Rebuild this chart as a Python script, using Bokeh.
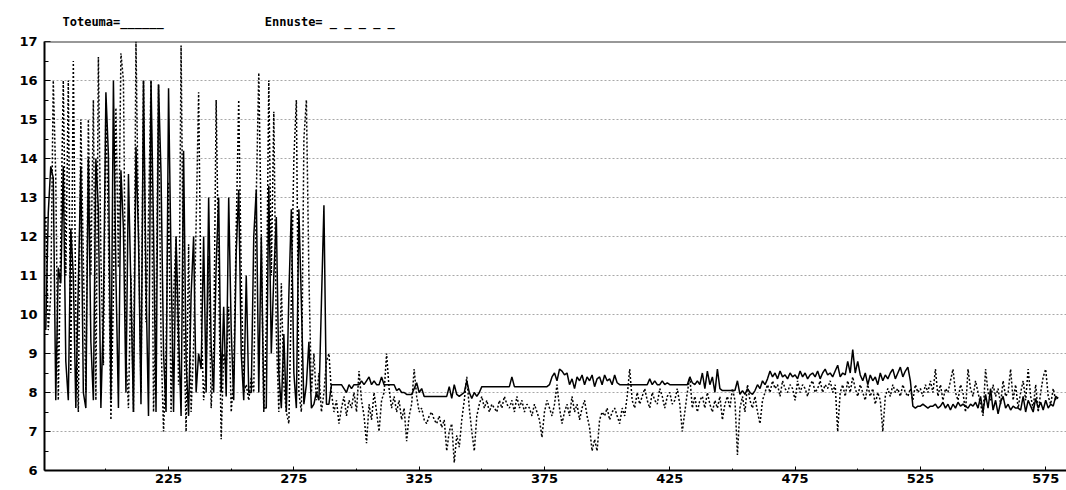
from bokeh.plotting import figure
from bokeh.models import FixedTicker, Range1d, Span
from bokeh.embed import file_html
from bokeh.resources import INLINE

# Day index of the first observation; one value per day for both series
first_day = 176

# Actual values (Toteuma), volatile period
toteuma_early = [
    9.6, 12.6, 13.8, 13.5, 7.8, 11.2, 10.8, 13.8, 8.8, 7.8,
    12.2, 11.0, 7.6, 10.8, 13.8, 8.0, 7.6, 14.0, 9.3, 7.8,
    14.0, 12.7, 7.6, 10.0, 15.7, 14.1, 7.8, 16.0, 11.0, 7.6,
    13.7, 12.2, 8.0, 13.6, 10.6, 7.5, 14.3, 12.0, 7.7, 16.0,
    10.8, 7.4, 16.0, 12.2, 7.5, 15.9, 13.6, 9.0, 7.5, 15.8,
    11.4, 7.5, 12.0, 9.5, 7.4, 14.2, 8.8, 7.4, 10.5, 12.0,
    8.0, 9.0, 8.6, 12.0, 8.0, 13.0, 9.2, 8.0, 11.3, 13.0,
    8.0, 10.2, 7.9, 13.0, 9.6, 7.8, 11.6, 13.2, 9.0, 7.8,
    11.0, 8.0, 8.0, 12.0, 13.2, 8.0, 12.0, 7.6, 7.6, 13.3,
    9.0, 11.0, 12.5, 8.5, 7.6, 9.5, 7.5, 10.5, 12.7, 8.5,
    7.6, 12.7, 10.3, 7.7, 8.2, 9.3, 7.6, 7.7, 8.0, 7.8,
    10.3, 12.8, 7.7, 7.7, 8.2,
]

# Actual values (Toteuma), calm period
toteuma_late = [
    8.2, 8.2, 8.2, 8.2, 8.1, 8.0, 8.2, 8.1, 8.2, 8.2,
    8.2, 8.3, 8.2, 8.3, 8.4, 8.2, 8.3, 8.2, 8.2, 8.4,
    8.2, 8.2, 8.2, 8.2, 8.2, 8.05, 8.1, 8.0, 8.0, 7.95,
    7.95, 7.95, 8.1, 8.25, 8.0, 8.1, 7.9, 7.9, 7.9, 7.9,
    7.9, 7.9, 7.9, 7.9, 7.9, 7.9, 8.15, 7.85, 8.2, 7.95,
    7.9, 7.95, 8.0, 8.3, 8.0, 7.85, 8.0, 7.9, 8.0, 8.15,
    8.15, 8.15, 8.15, 8.15, 8.15, 8.15, 8.15, 8.15, 8.15, 8.15,
    8.15, 8.4, 8.15, 8.15, 8.15, 8.15, 8.15, 8.15, 8.15, 8.15,
    8.15, 8.15, 8.15, 8.15, 8.15, 8.15, 8.2, 8.4, 8.5, 8.3,
    8.6, 8.55, 8.45, 8.5, 8.2, 8.35, 8.1, 8.4, 8.3, 8.45,
    8.2, 8.4, 8.3, 8.45, 8.15, 8.35, 8.4, 8.2, 8.45, 8.3,
    8.35, 8.2, 8.45, 8.25, 8.2, 8.2, 8.2, 8.2, 8.2, 8.2,
    8.2, 8.2, 8.2, 8.2, 8.2, 8.2, 8.35, 8.2, 8.3, 8.2,
    8.2, 8.3, 8.2, 8.25, 8.2, 8.2, 8.2, 8.2, 8.2, 8.2,
    8.2, 8.2, 8.4, 8.25, 8.2, 8.3, 8.2, 8.5, 8.1, 8.55,
    8.2, 8.4, 8.0, 8.6, 8.1, 8.05, 8.05, 8.05, 8.05, 8.05,
    8.05, 8.3, 7.95, 8.05, 7.95, 8.1, 8.0, 7.95, 8.05, 8.2,
    8.1, 8.3, 8.2, 8.35, 8.55, 8.4, 8.5, 8.35, 8.55, 8.4,
    8.45, 8.35, 8.5, 8.4, 8.45, 8.35, 8.55, 8.4, 8.5, 8.35,
    8.45, 8.5, 8.4, 8.55, 8.35, 8.5, 8.6, 8.45, 8.5, 8.4,
    8.55, 8.7, 8.4, 8.5, 8.45, 8.8, 8.5, 9.1, 8.5, 8.8,
    8.45, 8.3, 8.5, 8.2, 8.45, 8.3, 8.4, 8.2, 8.5, 8.3,
    8.45, 8.35, 8.5, 8.6, 8.35, 8.5, 8.65, 8.4, 8.55, 8.65,
    8.3, 7.65, 7.6, 7.65, 7.65, 7.7, 7.65, 7.6, 7.65, 7.65,
    7.7, 7.6, 7.65, 7.75, 7.6, 7.7, 7.55, 7.7, 7.6, 7.75,
    7.65, 7.7, 7.65, 7.6, 7.7, 7.65, 7.75, 7.6, 7.9, 7.5,
    7.95, 7.6, 8.1, 7.55, 7.8, 7.45, 7.75, 7.9, 7.6, 7.7,
    7.55, 7.65, 7.6, 7.6, 7.55, 7.9, 7.5, 7.8, 7.65, 7.5,
    7.85, 7.6, 7.75, 7.55, 7.8, 7.6, 7.7, 7.65, 7.9, 7.85,
]

# Forecast values (Ennuste), volatile period
ennuste_early = [
    12.5, 9.6, 10.5, 16.0, 13.5, 7.8, 12.0, 16.0, 11.0, 16.0,
    8.5, 16.5, 10.0, 7.5, 15.0, 11.4, 8.0, 15.0, 11.0, 15.5,
    7.8, 16.6, 11.5, 8.7, 15.4, 12.0, 7.3, 10.5, 15.3, 11.2,
    16.7, 16.0, 9.0, 7.6, 11.0, 7.5, 17.0, 12.2, 8.0, 16.0,
    9.8, 12.5, 16.0, 7.5, 10.0, 15.9, 9.3, 7.0, 9.0, 13.4,
    7.5, 10.5, 12.0, 8.2, 16.9, 10.0, 7.0, 11.8, 7.5, 9.2,
    12.3, 15.7, 10.0, 7.8, 8.6, 11.5, 7.6, 9.0, 15.5, 11.0,
    6.8, 9.0, 8.6, 10.2, 7.5, 8.4, 12.2, 15.5, 11.0, 8.0,
    8.2, 7.8, 8.4, 8.0, 13.0, 16.2, 12.0, 7.5, 9.7, 16.0,
    11.0, 15.2, 9.5, 7.5, 10.8, 8.2, 7.5, 7.2, 10.4, 14.0,
    15.5, 8.0, 7.5, 14.5, 15.5, 11.0, 8.0, 9.0, 7.8, 8.5,
    7.5, 8.0, 8.8, 9.0, 8.0,
]

# Forecast values (Ennuste), calm period
ennuste_late = [
    7.5, 7.8, 7.2, 7.6, 7.9, 7.4, 7.8, 7.6, 8.0, 7.5,
    8.55, 7.8, 7.4, 6.7, 7.7, 7.3, 8.0, 7.5, 7.0, 7.8,
    8.0, 9.0, 8.1, 7.6, 7.9, 7.5, 7.8, 7.3, 7.6, 6.75,
    7.4, 7.7, 8.6, 7.9, 7.5, 7.6, 7.3, 7.2, 7.4, 7.5,
    7.3, 7.2, 7.4, 7.1, 7.3, 6.5, 7.0, 7.2, 6.2, 6.9,
    6.6, 7.3, 7.8, 8.4, 7.6, 7.0, 6.5, 7.4, 7.7, 7.9,
    7.6, 7.8, 7.5, 7.7, 7.6, 7.5, 7.8, 7.6, 7.9, 7.7,
    7.6, 7.8, 7.5, 7.9, 7.6, 7.8, 7.5, 7.7, 7.6, 7.4,
    7.7, 7.5, 7.3, 6.85, 7.5, 7.8, 7.6, 7.4, 7.7, 8.2,
    7.6, 7.2, 7.5, 7.7, 7.4, 7.9, 7.5, 7.7, 7.3, 7.6,
    7.8, 7.4, 7.1, 6.5, 6.8, 6.5, 7.3, 7.5, 7.4, 7.6,
    7.3, 7.5, 7.6, 7.4, 7.2, 7.6, 7.4, 7.9, 8.6, 7.8,
    7.6, 8.0, 7.7, 7.9, 8.1, 7.8, 7.6, 8.0, 7.8, 7.7,
    8.1, 7.9, 7.6, 7.9, 8.0, 7.7, 7.8, 8.1, 7.7, 7.0,
    7.5, 8.0, 8.4, 7.6, 7.9, 7.5, 7.8, 7.9, 7.6, 8.0,
    7.7, 7.5, 7.8, 7.6, 7.9, 7.3, 7.7, 7.9, 7.6, 8.1,
    7.8, 6.4, 7.6, 7.9, 7.5, 8.2, 7.8, 7.6, 7.9, 7.5,
    7.2, 7.8, 8.0, 8.2, 8.0, 8.3, 8.1, 8.2, 7.9, 8.3,
    8.1, 8.0, 8.2, 8.1, 7.8, 8.3, 8.0, 8.2, 8.1, 7.9,
    8.2, 8.3, 8.0, 8.1, 8.3, 8.0, 8.2, 8.1, 8.3, 8.0,
    8.2, 7.0, 8.0, 8.2, 7.9, 8.3, 8.0, 8.4, 8.1, 7.9,
    8.2, 8.0, 7.8, 8.2, 7.9, 8.1, 7.7, 8.0, 7.8, 7.0,
    7.9, 8.1, 7.9, 8.2, 8.0, 8.1, 7.9, 8.2, 8.0, 7.9,
    8.1, 7.8, 8.2, 8.0, 8.1, 7.9, 8.2, 8.0, 8.3, 8.0,
    8.6, 7.9, 8.2, 7.8, 8.1, 8.0, 8.3, 8.6, 8.0, 7.8,
    8.2, 8.0, 7.5, 8.6, 8.1, 7.9, 8.3, 8.0, 7.7, 7.4,
    8.6, 8.0, 7.8, 8.2, 7.9, 8.1, 7.7, 8.3, 7.9, 8.0,
    8.6, 7.8, 8.2, 7.6, 8.0, 8.3, 7.8, 8.6, 7.9, 7.6,
    8.2, 7.5, 8.0, 8.4, 8.6, 7.9, 7.7, 8.1, 7.8, 7.9,
]

toteuma = toteuma_early + toteuma_late
ennuste = ennuste_early + ennuste_late
days = list(range(first_day, first_day + len(toteuma)))

x_major_ticks = [225, 275, 325, 375, 425, 475, 525, 575]
x_minor_ticks = [200, 250, 300, 350, 400, 450, 500, 550]
y_major_ticks = list(range(6, 18))
y_minor_ticks = [v + 0.5 for v in range(6, 17)]

# legend written as text above the plot; non-breaking spaces keep the gap
legend_text = "Toteuma=______" + "\u00a0" * 14 + "Ennuste=\u00a0_\u00a0_\u00a0_\u00a0_\u00a0_"

MONO = "DejaVu Sans Mono"
SANS = "DejaVu Sans"

p = figure(
    width=1066, height=490,
    x_range=Range1d(175.5, 583.3), y_range=Range1d(6, 17),
    output_backend="svg", toolbar_location=None,
    min_border_left=44, min_border_right=0,
    min_border_top=41, min_border_bottom=20,
    background_fill_color="white", border_fill_color="white",
    outline_line_color=None,
    title=legend_text,
)

p.title.text_font = MONO
p.title.text_font_style = "bold"
p.title.text_font_size = "12px"
p.title.text_color = "black"
p.title.align = "left"
p.title.offset = 18
p.title.standoff = 25

# axes: ticks point into the plot area
p.xaxis.ticker = FixedTicker(ticks=x_major_ticks, minor_ticks=x_minor_ticks)
p.yaxis.ticker = FixedTicker(ticks=y_major_ticks, minor_ticks=y_minor_ticks)
for ax in (p.xaxis[0], p.yaxis[0]):
    ax.axis_line_color = "black"
    ax.axis_line_width = 2
    ax.major_tick_line_color = "black"
    ax.minor_tick_line_color = "black"
    ax.major_tick_out = 0
    ax.minor_tick_out = 0
    ax.major_label_text_font = SANS
    ax.major_label_text_font_style = "bold"
    ax.major_label_text_font_size = "13px"
    ax.major_label_text_color = "black"
p.xaxis.major_tick_in = 4
p.xaxis.minor_tick_in = 2
p.xaxis.major_label_standoff = 3
p.yaxis.major_tick_in = 6
p.yaxis.minor_tick_in = 4
p.yaxis.major_label_standoff = 7

p.xgrid.grid_line_color = None
p.ygrid.grid_line_color = "#a8a8a8"
p.ygrid.grid_line_dash = "2 2"
p.ygrid.grid_line_width = 1

# top border of the plot area
p.add_layout(Span(location=17, dimension="width", line_color="#333333", line_width=2))

p.line(days, ennuste, line_color="black", line_width=1.5, line_dash="2 2")
p.line(days, toteuma, line_color="black", line_width=1.5)

open("out.html", "w").write(file_html(p, INLINE))
